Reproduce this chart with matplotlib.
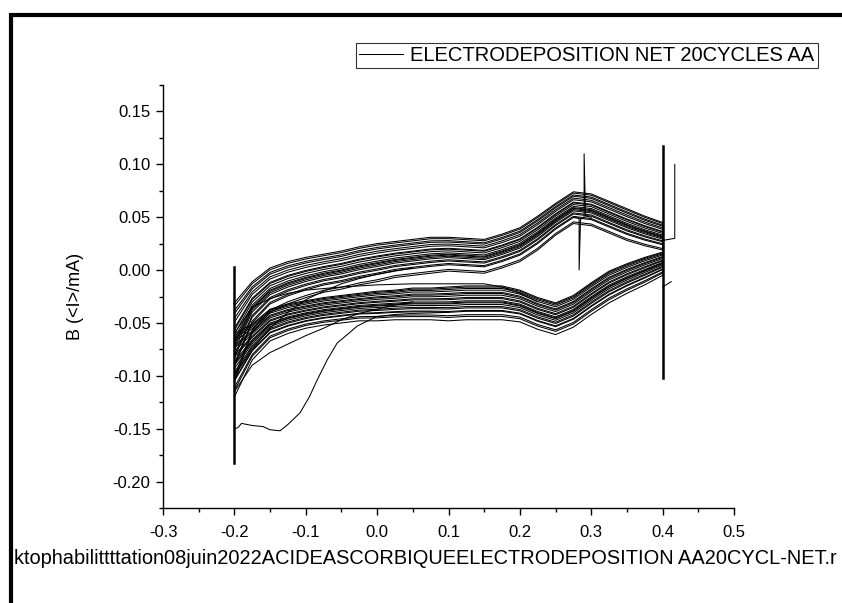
import matplotlib
matplotlib.use("Agg")
import matplotlib.pyplot as plt
from matplotlib.lines import Line2D
import numpy as np

plt.rcParams['font.family'] = ['Liberation Sans', 'DejaVu Sans']

# potential grid (V) used for the 20 cycles
potential = [-0.200, -0.175, -0.150, -0.125, -0.100, -0.075, -0.050, -0.025,
             0.000, 0.025, 0.050, 0.075, 0.100, 0.125, 0.150, 0.175,
             0.200, 0.225, 0.250, 0.275, 0.300, 0.325, 0.350, 0.375, 0.400]

# forward (anodic) scan: middle of the bundle and half width of the bundle (mA)
fwd_mid = [-0.068, -0.035, -0.019, -0.012, -0.007, -0.003, 0.000, 0.004,
           0.007, 0.010, 0.012, 0.014, 0.015, 0.014, 0.013, 0.018,
           0.024, 0.035, 0.048, 0.059, 0.057, 0.050, 0.043, 0.037, 0.032]
fwd_half = [0.037, 0.024, 0.021, 0.020, 0.019, 0.018, 0.018, 0.018,
            0.018, 0.017, 0.017, 0.017, 0.016, 0.016, 0.016, 0.016,
            0.016, 0.016, 0.015, 0.015, 0.015, 0.015, 0.015, 0.014, 0.013]

# reverse (cathodic) scan, same grid
rev_mid = [-0.090, -0.068, -0.052, -0.046, -0.042, -0.039, -0.037, -0.035,
           -0.034, -0.033, -0.032, -0.032, -0.032, -0.031, -0.031, -0.031,
           -0.034, -0.041, -0.046, -0.039, -0.027, -0.016, -0.008, -0.001, 0.006]
rev_half = [0.030, 0.017, 0.015, 0.014, 0.013, 0.013, 0.013, 0.013,
            0.014, 0.014, 0.015, 0.015, 0.016, 0.016, 0.016, 0.016,
            0.015, 0.015, 0.015, 0.015, 0.015, 0.015, 0.014, 0.013, 0.011]

# position of each cycle inside the bundle (-1 bottom, +1 top)
fwd_pos = [-1.0, -0.9, -0.62, -0.55, -0.4, -0.33, -0.2, -0.12, -0.05, 0.0,
           0.08, 0.2, 0.3, 0.35, 0.5, 0.6, 0.72, 0.8, 0.92, 1.0]
rev_pos = [-1.0, -0.8, -0.7, -0.5, -0.45, -0.3, -0.22, -0.1, 0.0, 0.05,
           0.12, 0.25, 0.32, 0.45, 0.55, 0.62, 0.75, 0.85, 0.93, 1.0]

# odd first sweep starting at -0.15 mA
first_x = [-0.200, -0.195, -0.190, -0.175, -0.160, -0.150, -0.136, -0.125,
           -0.108, -0.095, -0.084, -0.070, -0.056, -0.040, -0.028, -0.010,
           0.000, 0.025, 0.050, 0.100]
first_y = [-0.150, -0.149, -0.145, -0.147, -0.148, -0.151, -0.152, -0.146,
           -0.135, -0.120, -0.104, -0.085, -0.069, -0.060, -0.053, -0.047,
           -0.044, -0.042, -0.041, -0.040]

# early sweeps crossing between the two bundles
cross1_x = [-0.200, -0.175, -0.150, -0.125, -0.100, -0.075, -0.050, -0.025, 0.000, 0.050]
cross1_y = [-0.100, -0.075, -0.055, -0.040, -0.028, -0.020, -0.013, -0.008, -0.004, 0.002]
cross2_x = [-0.200, -0.175, -0.150, -0.125, -0.100, -0.075, -0.050, -0.025, 0.000, 0.025, 0.050]
cross2_y = [-0.115, -0.090, -0.078, -0.070, -0.062, -0.055, -0.047, -0.041, -0.037, -0.033, -0.030]
cross3_x = [-0.200, -0.175, -0.150, -0.125, -0.100, -0.050, 0.000, 0.050, 0.100, 0.150, 0.175, 0.200, 0.225]
cross3_y = [-0.060, -0.035, -0.027, -0.022, -0.019, -0.016, -0.014, -0.013, -0.013, -0.013, -0.016, -0.022, -0.030]

# spikes and vertex artefacts
spike_x = [0.276, 0.283, 0.283, 0.285, 0.290, 0.290, 0.292, 0.300]
spike_y = [0.050, 0.049, 0.000, 0.048, 0.050, 0.110, 0.051, 0.050]
vert_left_x = [-0.2, -0.2]
vert_left_y = [0.003, -0.182]
vert_right_x = [0.4, 0.4]
vert_right_y = [0.117, -0.102]
tail_x = [0.400, 0.417, 0.417]
tail_y = [0.028, 0.030, 0.100]
tail2_x = [0.400, 0.412]
tail2_y = [-0.016, -0.011]

x_ticks = [-0.3, -0.2, -0.1, 0.0, 0.1, 0.2, 0.3, 0.4, 0.5]
y_ticks = [-0.20, -0.15, -0.10, -0.05, 0.00, 0.05, 0.10, 0.15]

fig = plt.figure(figsize=(8.42, 6.03), dpi=100)
ax = fig.add_axes([163 / 842, 1 - 508 / 603, (734 - 163) / 842, (508 - 85) / 603])

lw = 0.75
pot = np.array(potential)
for i in range(len(fwd_pos)):
    up = np.array(fwd_mid) + np.array(fwd_half) * fwd_pos[i]
    dn = np.array(rev_mid) + np.array(rev_half) * rev_pos[i]
    x = np.concatenate([pot, pot[::-1]])
    y = np.concatenate([up, dn[::-1]])
    ax.plot(x, y, color='black', lw=lw,
            label='ELECTRODEPOSITION NET 20CYCLES AA' if i == 0 else None)

for xs, ys in [(first_x, first_y), (cross1_x, cross1_y), (cross2_x, cross2_y),
               (cross3_x, cross3_y), (spike_x, spike_y), (tail_x, tail_y),
               (tail2_x, tail2_y)]:
    ax.plot(xs, ys, color='black', lw=lw)
ax.plot(vert_left_x, vert_left_y, color='black', lw=1.8)
ax.plot(vert_right_x, vert_right_y, color='black', lw=1.8)

ax.set_xlim(-0.3, 0.5)
ax.set_ylim(-0.225, 0.175)
ax.set_xticks(x_ticks)
ax.set_xticks(np.arange(-0.3, 0.51, 0.05), minor=True)
ax.set_yticks(y_ticks)
ax.set_yticks(np.arange(-0.225, 0.176, 0.025), minor=True)
ax.set_xticklabels([f"{v:.1f}" for v in x_ticks])
ax.set_yticklabels([f"{v:.2f}" for v in y_ticks])
for s in ['top', 'right']:
    ax.spines[s].set_visible(False)
for s in ['left', 'bottom']:
    ax.spines[s].set_linewidth(1.0)
ax.tick_params(which='major', direction='out', length=5, width=1.0, labelsize=12)
ax.tick_params(which='minor', direction='out', length=3, width=1.0)
ax.tick_params(axis='x', which='major', pad=7)
ax.tick_params(axis='y', which='major', pad=4)

fig.text(75 / 842, 1 - 296 / 603, 'B (<I>/mA)', rotation=90,
         ha='center', va='center', fontsize=13)
# file name line, as far as it is visible on the page
fig.text(14 / 842, 1 - 558 / 603,
         'ktophabilittttation08juin2022ACIDEASCORBIQUEELECTRODEPOSITION AA20CYCL-NET.r',
         ha='left', va='center', fontsize=14.4)

leg = fig.legend(loc='upper left', bbox_to_anchor=(356 / 842, 1 - 43 / 603),
                 fontsize=14.5, frameon=True, fancybox=False, borderpad=0.15,
                 borderaxespad=0, handlelength=2.2, handletextpad=0.35)
leg.get_frame().set_edgecolor('black')
leg.get_frame().set_linewidth(0.8)

# page frame (top and left)
fig.add_artist(Line2D([11 / 842, 11 / 842, 1.0], [0.0, 1 - 15 / 603, 1 - 15 / 603],
                      transform=fig.transFigure, color='black', lw=3.0,
                      solid_joinstyle='miter'))

fig.savefig('out.png', dpi=100)
